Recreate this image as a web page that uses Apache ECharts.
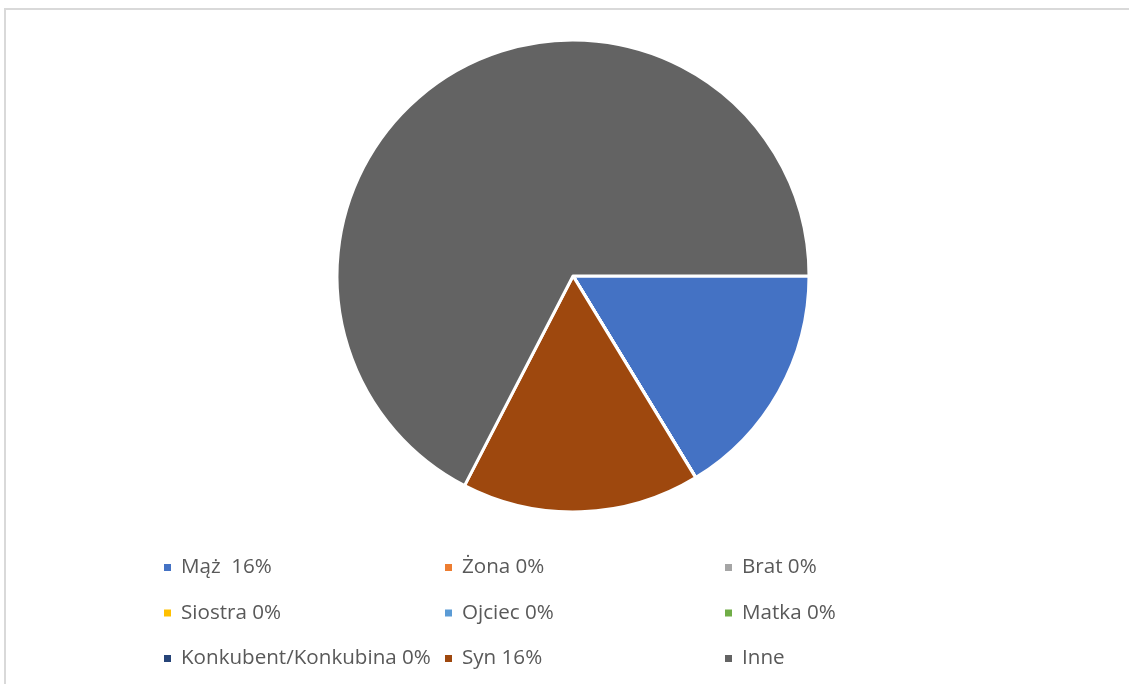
<!DOCTYPE html>
<html><head><meta charset="utf-8">
<script src="https://cdn.jsdelivr.net/npm/echarts@6/dist/echarts.min.js"></script>
<style>html,body{margin:0;padding:0;background:#fff}#c{width:1129px;height:684px}</style>
</head><body><div id="c"></div>
<script>
const categories = ['Mąż  16%', 'Żona 0%', 'Brat 0%', 'Siostra 0%', 'Ojciec 0%', 'Matka 0%', 'Konkubent/Konkubina 0%', 'Syn 16%', 'Inne'];
const values = [16.3, 0, 0, 0, 0, 0, 0, 16.3, 67.4];
const colors = ['#4472C4', '#ED7D31', '#A5A5A5', '#FFC000', '#5B9BD5', '#70AD47', '#264478', '#9E480E', '#636363'];
const legendColumns = [[0, 3, 6], [1, 4, 7], [2, 5, 8]];
const legendLefts = [162, 443, 723];

const chart = echarts.init(document.getElementById('c'));
const legends = legendColumns.map((col, i) => ({
  orient: 'vertical',
  left: legendLefts[i],
  top: 557,
  padding: 0,
  itemWidth: 9,
  itemHeight: 9,
  itemGap: 24.5,
  icon: 'rect',
  selectedMode: false,
  data: col.map(k => categories[k]),
  textStyle: { fontFamily: 'Open Sans', fontSize: 20.6, color: '#595959', lineHeight: 21, padding: [0, 0, 0, 4] }
}));
chart.setOption({
  animation: false,
  color: colors,
  graphic: [{ type: 'rect', shape: { x: 5, y: 9, width: 1140, height: 700 }, style: { fill: 'none', stroke: '#d9d9d9', lineWidth: 2 } }],
  legend: legends,
  series: [{
    type: 'pie',
    center: [573, 276],
    radius: 236,
    startAngle: 0,
    clockwise: true,
    label: { show: false },
    labelLine: { show: false },
    emphasis: { disabled: true },
    itemStyle: { borderColor: '#ffffff', borderWidth: 3 },
    data: categories.map((n, i) => ({ name: n, value: values[i] }))
  }]
});
</script></body></html>
